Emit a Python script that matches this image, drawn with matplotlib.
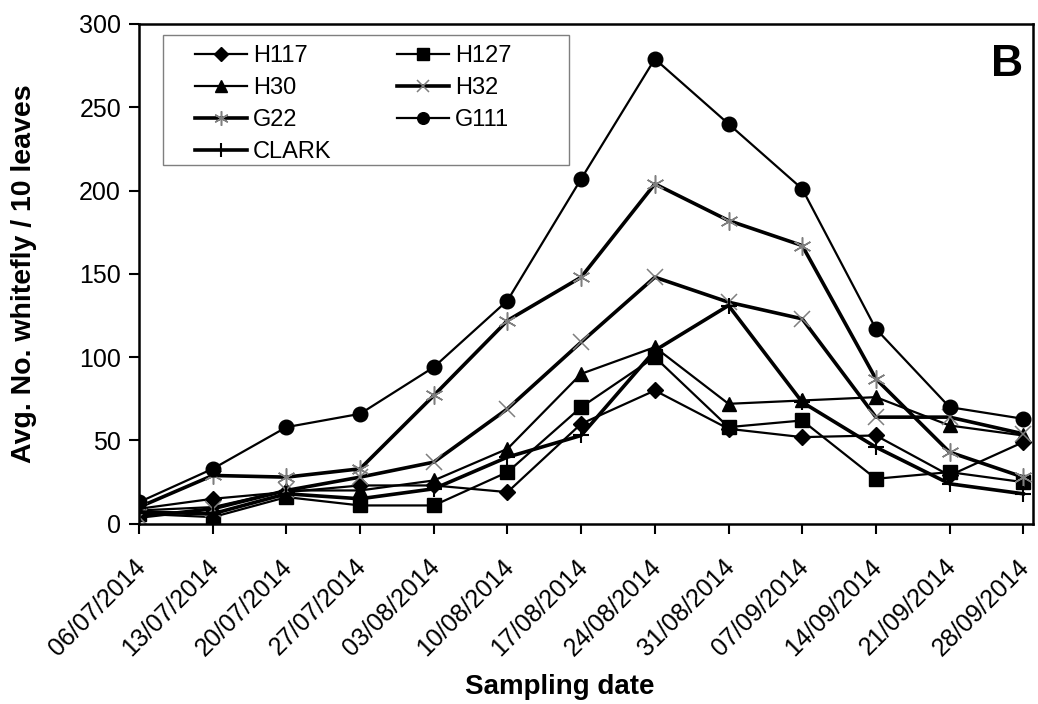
import matplotlib
matplotlib.use("Agg")
import matplotlib.pyplot as plt
import matplotlib.transforms as mtransforms
from matplotlib.patches import Rectangle
import numpy as np

plt.rcParams['font.family'] = ['Liberation Sans', 'DejaVu Sans']

dates = ['06/07/2014', '13/07/2014', '20/07/2014', '27/07/2014', '03/08/2014',
         '10/08/2014', '17/08/2014', '24/08/2014', '31/08/2014', '07/09/2014',
         '14/09/2014', '21/09/2014', '28/09/2014']

H117 = [9, 15, 19, 23, 23, 19, 60, 80, 57, 52, 53, 29, 49]
H127 = [6, 4, 16, 11, 11, 31, 70, 100, 58, 62, 27, 31, 25]
H30 = [8, 10, 20, 20, 26, 45, 90, 106, 72, 74, 76, 59, 53]
H32 = [4, 9, 20, 28, 37, 69, 109, 148, 133, 123, 64, 64, 54]
G22 = [10, 29, 28, 33, 77, 122, 148, 204, 182, 167, 87, 43, 28]
G111 = [13, 33, 58, 66, 94, 134, 207, 279, 240, 201, 117, 70, 63]
CLARK = [7, 6, 18, 15, 21, 40, 53, 104, 131, 73, 46, 24, 18]

x = np.arange(len(dates))

fig = plt.figure(figsize=(10.38, 7.04), dpi=100)
ax = fig.add_axes([0.134, 0.256, 0.861, 0.710])

thin = 1.6
thick = 2.6
grey = '#7f7f7f'

l1, = ax.plot(x, H117, color='black', lw=thin, marker='D', ms=8.5, label='H117')
l2, = ax.plot(x, H127, color='black', lw=thin, marker='s', ms=10, label='H127')
l3, = ax.plot(x, H30, color='black', lw=thin, marker='^', ms=10.5, label='H30')
l4, = ax.plot(x, H32, color='black', lw=thick, marker='x', ms=11, mec=grey, mew=1.1, label='H32')
l5, = ax.plot(x, G22, color='black', lw=thick, marker=(6, 2, 0), ms=13, mec=grey, mew=1.1, label='G22')
l6, = ax.plot(x, G111, color='black', lw=thin, marker='o', ms=10.5, label='G111')
l7, = ax.plot(x, CLARK, color='black', lw=thick, marker='+', ms=12, mew=1.5, label='CLARK')

ax.set_xlim(0, 12.13)
ax.set_ylim(0, 300)
ax.set_yticks(np.arange(0, 301, 50))
ax.set_xticks(x)
ax.set_xticklabels(dates, rotation=45, ha='right', va='top', rotation_mode='anchor')

ax.tick_params(axis='both', direction='out', length=7, width=1.5, labelsize=18, colors='black')
ax.tick_params(axis='x', pad=15)
ax.tick_params(axis='y', pad=6)
# nudge the rotated date labels a little left so the last one stays inside
shift = mtransforms.ScaledTranslation(-0.06, 0, fig.dpi_scale_trans)
for lab in ax.get_xticklabels():
    lab.set_transform(lab.get_transform() + shift)
for s in ax.spines.values():
    s.set_linewidth(1.8)

ax.set_ylabel('Avg. No. whitefly / 10 leaves', fontsize=20.5, fontweight='bold')
ax.yaxis.set_label_coords(-0.114, 0.5)
ax.set_xlabel('Sampling date', fontsize=20, fontweight='bold')
ax.xaxis.set_label_coords(0.471, -0.30)

ax.text(0.971, 0.918, 'B', transform=ax.transAxes, fontsize=32, fontweight='bold',
        ha='center', va='center')

# row-major order like the original legend
handles = [l1, l3, l5, l7, l2, l4, l6]
leg = ax.legend(handles, [h.get_label() for h in handles], ncol=2, loc='upper left',
                bbox_to_anchor=(0.0626, 0.958), borderaxespad=0, borderpad=0,
                fontsize=17, frameon=False,
                handlelength=2.2, handletextpad=0.25, columnspacing=2.8,
                labelspacing=0.43)
for h in leg.legend_handles:
    h.set_markersize(h.get_markersize() * 0.8)
ax.add_patch(Rectangle((0.027, 0.718), 0.454, 0.260, transform=ax.transAxes,
                       fill=False, edgecolor=grey, lw=1.0, zorder=5))

fig.savefig('out.png', dpi=100)
